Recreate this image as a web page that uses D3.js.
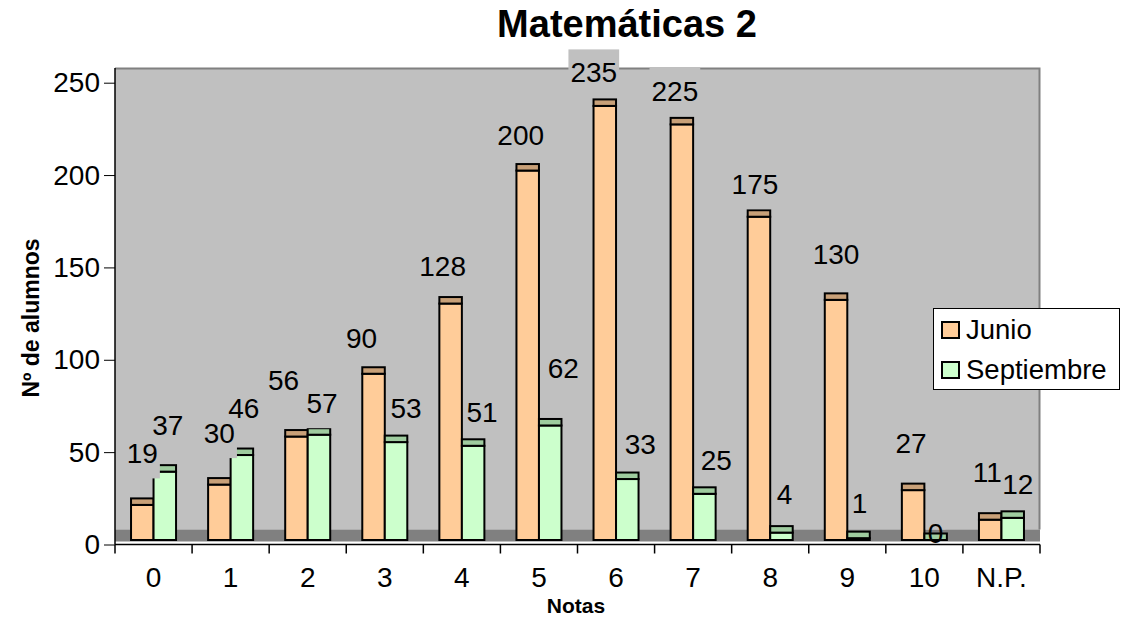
<!DOCTYPE html>
<html>
<head>
<meta charset="utf-8">
<script src="https://cdn.jsdelivr.net/npm/d3@7"></script>
<style>
  html, body { margin: 0; padding: 0; background: #fff; }
  svg { display: block; }
  text { font-family: "Liberation Sans", Arial, sans-serif; }
</style>
</head>
<body>
<svg id="chart" width="1121" height="618"></svg>
<script>
// ---- data ----
const categories = ["0", "1", "2", "3", "4", "5", "6", "7", "8", "9", "10", "N.P."];
const seriesNames = ["Junio", "Septiembre"];
const junio      = [19, 30, 56, 90, 128, 200, 235, 225, 175, 130, 27, 11];
const septiembre = [37, 46, 57, 53, 51, 62, 33, 25, 4, 1, 0, 12];
const yTicks = [0, 50, 100, 150, 200, 250];
const title = "Matemáticas 2";
const xTitle = "Notas";
const yTitle = "Nº de alumnos";

// label placement nudges (relative to each bar), as Excel placed them
const junioLabelDx = [0, 0, -13, -12, -8, -7, -11, -7, -4, 0, -2, -3];
const junioLabelDy = [-46, -46, -51, -30, -32, -30, -28, -28, -27, -40, -42, -42];
const septLabelDx  = [3, 2, 3, 10, 9, 13, 13, 12, 3, 1, 0, 5];
const septLabelDy  = [-41, -42, -26, -29, -28, -52, -30, -28, -33, -30, -2, -28];

// ---- layout ----
const svg = d3.select("#chart");
const plotLeft = 115, plotRight = 1040, wallTop = 68.5, floorTop = 529.5, floorBottom = 541.5;
const frontShift = 4.5;   // front face is drawn this much above the axis scale
const topDepth = 6.5;     // visible top face of the 3D column

const y = d3.scaleLinear().domain([0, 250]).range([544.5, 82.7]);
const x = d3.scaleBand().domain(categories).range([plotLeft, plotRight])
  .paddingInner(0.416).paddingOuter(0.208);
const xs = d3.scaleBand().domain(seriesNames).range([0, x.bandwidth()]);

const colors = {
  Junio: { front: "#ffcc99", top: "#c8a078" },
  Septiembre: { front: "#ccffcc", top: "#9fcc9f" }
};

// back wall
svg.append("rect").attr("x", plotLeft).attr("y", wallTop)
  .attr("width", plotRight - plotLeft).attr("height", floorTop - wallTop)
  .attr("fill", "#c0c0c0");
// floor
svg.append("rect").attr("x", plotLeft).attr("y", floorTop)
  .attr("width", plotRight - plotLeft).attr("height", floorBottom - floorTop)
  .attr("fill", "#808080");
// wall border (top and right)
svg.append("path")
  .attr("d", `M${plotLeft},${wallTop}H${plotRight - 0.5}V${floorTop}`)
  .attr("fill", "none").attr("stroke", "#808080").attr("stroke-width", 2);

// bars
const rows = [];
categories.forEach((c, i) => {
  rows.push({ cat: c, s: "Junio", v: junio[i], dx: junioLabelDx[i], dy: junioLabelDy[i] });
  rows.push({ cat: c, s: "Septiembre", v: septiembre[i], dx: septLabelDx[i], dy: septLabelDy[i] });
});
const base = y(0) - frontShift;
const bars = svg.append("g").selectAll("g").data(rows).join("g");
bars.append("rect")
  .attr("x", d => x(d.cat) + xs(d.s))
  .attr("y", d => y(d.v) - frontShift)
  .attr("width", xs.bandwidth())
  .attr("height", d => base - (y(d.v) - frontShift))
  .attr("fill", d => colors[d.s].front)
  .attr("stroke", "#000").attr("stroke-width", 2);
bars.append("rect")
  .attr("x", d => x(d.cat) + xs(d.s))
  .attr("y", d => y(d.v) - frontShift - topDepth)
  .attr("width", xs.bandwidth())
  .attr("height", topDepth)
  .attr("fill", d => colors[d.s].top)
  .attr("stroke", "#000").attr("stroke-width", 2);

// data labels with wall-coloured background boxes
svg.append("clipPath").attr("id", "aboveFloor").append("rect")
  .attr("x", 0).attr("y", 0).attr("width", 1121).attr("height", floorTop);
const labelG = svg.append("g");
const boxG = labelG.append("g").attr("clip-path", "url(#aboveFloor)");
const txtG = labelG.append("g");
rows.forEach(d => {
  const cx = x(d.cat) + xs(d.s) + xs.bandwidth() / 2 + d.dx;
  const by = y(d.v) + d.dy;
  const t = txtG.append("text").attr("x", cx).attr("y", by)
    .attr("text-anchor", "middle").attr("font-size", 28).attr("fill", "#000")
    .text(d.v);
  const bb = t.node().getBBox();
  boxG.append("rect").attr("x", bb.x - 2).attr("y", by - 33)
    .attr("width", bb.width + 4).attr("height", 48)
    .attr("fill", "#c0c0c0");
});

// y axis
const yAxis = svg.append("g").attr("transform", `translate(${plotLeft},0)`)
  .call(d3.axisLeft(y).tickValues(yTicks).tickSize(11).tickPadding(4).tickSizeOuter(0));
yAxis.select(".domain").remove();
yAxis.selectAll("text").attr("font-size", 28).attr("fill", "#000")
  .attr("font-family", '"Liberation Sans", Arial, sans-serif');
yAxis.selectAll("line").attr("stroke", "#000");
svg.append("line").attr("x1", plotLeft).attr("x2", plotLeft)
  .attr("y1", wallTop - 0.5).attr("y2", y(0)).attr("stroke", "#000").attr("stroke-width", 1.5);

// x axis
svg.append("line").attr("x1", plotLeft).attr("x2", plotRight)
  .attr("y1", y(0)).attr("y2", y(0)).attr("stroke", "#000").attr("stroke-width", 1.5);
const bounds = d3.range(categories.length + 1).map(i => x.range()[0] + i * x.step());
svg.append("g").selectAll("line").data(bounds).join("line")
  .attr("x1", d => d).attr("x2", d => d)
  .attr("y1", y(0)).attr("y2", y(0) + 9)
  .attr("stroke", "#000").attr("stroke-width", 1.5);
svg.append("g").selectAll("text").data(categories).join("text")
  .attr("x", d => x(d) + x.bandwidth() / 2)
  .attr("y", 587)
  .attr("text-anchor", "middle").attr("font-size", 28).attr("fill", "#000")
  .text(d => d);

// titles
svg.append("text").attr("x", 627).attr("y", 37).attr("text-anchor", "middle")
  .attr("font-size", 38).attr("font-weight", "bold").text(title);
svg.append("text").attr("x", 576).attr("y", 613).attr("text-anchor", "middle")
  .attr("font-size", 21).attr("font-weight", "bold").text(xTitle);
svg.append("text").attr("transform", "translate(39,318) rotate(-90)")
  .attr("text-anchor", "middle")
  .attr("font-size", 23).attr("font-weight", "bold").text(yTitle);

// legend
const lg = svg.append("g");
lg.append("rect").attr("x", 933.5).attr("y", 308.5).attr("width", 186).attr("height", 81)
  .attr("fill", "#fff").attr("stroke", "#000").attr("stroke-width", 1);
seriesNames.forEach((s, i) => {
  const yy = 322 + i * 40;
  lg.append("rect").attr("x", 942).attr("y", yy).attr("width", 17).attr("height", 16)
    .attr("fill", colors[s].front).attr("stroke", "#000").attr("stroke-width", 2);
  lg.append("text").attr("x", 966).attr("y", yy + 17).attr("font-size", 27.5)
    .attr("fill", "#000").text(s);
});
</script>
</body>
</html>
